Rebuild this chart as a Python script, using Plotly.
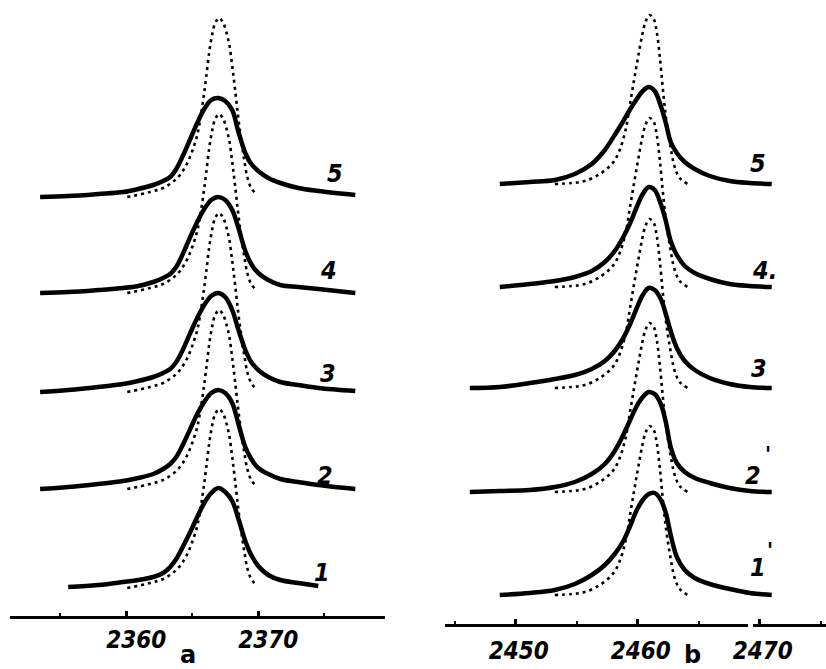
import plotly.graph_objects as go

# ---------------- Panel a ----------------
A_TICKS = [2360, 2370]
A_TICK_LABELS = ["2360", "2370"]
A_NAMES = ["1", "2", "3", "4", "5"]
A_OFFSETS = [0.0, 0.99, 1.96, 2.95, 3.91]

# shared wavenumber grid of the solid curves in panel a
A_WN = [2353.48, 2355.61, 2357.88, 2359.77, 2360.91, 2362.05, 2362.80, 2363.33, 2363.79, 2364.32,
        2364.85, 2365.38, 2365.91, 2366.44, 2366.97, 2367.50, 2368.03, 2368.48, 2369.02, 2369.47,
        2370.00, 2370.76, 2371.67, 2373.03, 2374.55, 2377.35]
A1_I = [None, 0.01, 0.03, 0.06, 0.08, 0.11, 0.15, 0.21, 0.29, 0.42, 0.56, 0.71, 0.85, 0.95, 1.00,
        0.96, 0.87, 0.70, 0.47, 0.33, 0.22, 0.13, 0.08, 0.05, 0.02, None]
A2_I = [0.0, 0.02, 0.05, 0.08, 0.11, 0.15, 0.20, 0.25, 0.32, 0.45, 0.60, 0.75, 0.87, 0.96, 0.99,
        0.96, 0.86, 0.66, 0.42, 0.30, 0.21, 0.15, 0.10, 0.07, 0.04, 0.0]
A3_I = [0.0, 0.02, 0.05, 0.08, 0.11, 0.15, 0.19, 0.23, 0.30, 0.43, 0.59, 0.74, 0.87, 0.96, 0.99,
        0.95, 0.82, 0.63, 0.42, 0.30, 0.22, 0.15, 0.10, 0.07, 0.04, 0.01]
A4_I = [0.0, 0.01, 0.03, 0.05, 0.07, 0.11, 0.15, 0.19, 0.26, 0.40, 0.56, 0.71, 0.84, 0.93, 0.96,
        0.93, 0.83, 0.66, 0.42, 0.29, 0.20, 0.13, 0.08, 0.06, 0.04, 0.0]
A5_I = [0.0, 0.01, 0.03, 0.05, 0.08, 0.12, 0.16, 0.20, 0.28, 0.42, 0.58, 0.74, 0.88, 0.97, 0.99,
        0.96, 0.87, 0.66, 0.44, 0.33, 0.26, 0.19, 0.14, 0.09, 0.06, 0.02]

# dotted (narrow) profile of panel a
AD_WN = [2360.08, 2361.82, 2362.95, 2363.94, 2364.55, 2365.00, 2365.38, 2365.61, 2365.83, 2366.06,
         2366.29, 2366.52, 2366.74, 2367.05, 2367.35, 2367.58, 2367.80, 2368.03, 2368.26, 2368.48,
         2368.71, 2368.94, 2369.17, 2369.47, 2369.92]
AD_I = [0.0, 0.05, 0.10, 0.20, 0.32, 0.46, 0.62, 0.78, 0.97, 1.20, 1.45, 1.63, 1.74, 1.79, 1.74,
        1.65, 1.53, 1.31, 1.06, 0.80, 0.57, 0.37, 0.20, 0.09, 0.02]

# ---------------- Panel b ----------------
B_TICKS = [2450, 2460, 2470]
B_TICK_LABELS = ["2450", "2460", "2470"]
B_NAMES = ["1", "2", "3", "4.", "5"]
B_OFFSETS = [-0.07, 0.96, 2.00, 3.01, 4.04]

B_WN = [2446.23, 2448.69, 2451.15, 2453.20, 2454.84, 2456.23, 2457.30, 2458.11, 2458.77, 2459.34,
        2459.92, 2460.41, 2460.90, 2461.39, 2461.89, 2462.30, 2462.70, 2463.20, 2463.85, 2464.67,
        2465.90, 2467.54, 2469.18, 2470.98]
B1_I = [None, 0.0, 0.02, 0.05, 0.11, 0.20, 0.30, 0.41, 0.53, 0.68, 0.85, 0.95, 1.01, 1.02, 0.95,
        0.82, 0.60, 0.38, 0.25, 0.17, 0.11, 0.06, 0.02, 0.0]
B2_I = [0.0, 0.01, 0.02, 0.05, 0.10, 0.18, 0.28, 0.41, 0.56, 0.71, 0.86, 0.95, 1.00, 0.98, 0.88,
        0.70, 0.45, 0.29, 0.20, 0.14, 0.09, 0.04, 0.01, 0.0]
B3_I = [0.0, 0.01, 0.05, 0.09, 0.13, 0.19, 0.27, 0.37, 0.49, 0.63, 0.80, 0.93, 1.00, 0.98, 0.89,
        0.74, 0.57, 0.40, 0.27, 0.18, 0.10, 0.04, 0.01, 0.0]
B4_I = [None, 0.0, 0.03, 0.06, 0.10, 0.16, 0.25, 0.36, 0.49, 0.63, 0.80, 0.93, 1.00, 0.97, 0.83,
        0.66, 0.46, 0.32, 0.21, 0.14, 0.08, 0.03, 0.01, 0.0]
B5_I = [None, 0.0, 0.02, 0.04, 0.10, 0.20, 0.34, 0.49, 0.62, 0.74, 0.85, 0.93, 0.97, 0.93, 0.78,
        0.61, 0.42, 0.31, 0.22, 0.15, 0.08, 0.03, 0.01, 0.0]

BD_WN = [2453.20, 2454.59, 2455.66, 2456.89, 2457.95, 2458.52, 2459.02, 2459.34, 2459.67, 2460.00,
         2460.33, 2460.66, 2460.98, 2461.31, 2461.56, 2461.80, 2462.05, 2462.30, 2462.62, 2463.03,
         2463.44, 2464.10]
BD_I = [0.0, 0.01, 0.03, 0.10, 0.21, 0.34, 0.55, 0.78, 1.02, 1.25, 1.47, 1.63, 1.69, 1.65, 1.52,
        1.28, 0.96, 0.68, 0.42, 0.17, 0.06, 0.0]

A_SOLID = [A1_I, A2_I, A3_I, A4_I, A5_I]
B_SOLID = [B1_I, B2_I, B3_I, B4_I, B5_I]

W, H = 826, 669
FONT = "DejaVu Sans Condensed, DejaVu Sans, sans-serif"

fig = go.Figure()


def shift(vals, off):
    return [None if v is None else v + off for v in vals]


def add_panel(wn, solid, dwn, dint, offsets, xa, ya):
    for off in offsets:
        fig.add_trace(go.Scatter(
            x=dwn, y=shift(dint, off), mode="lines", xaxis=xa, yaxis=ya,
            line=dict(color="black", width=2.6, dash="3px,4px", shape="spline", smoothing=1.0),
            showlegend=False, hoverinfo="skip"))
    for it, off in zip(solid, offsets):
        fig.add_trace(go.Scatter(
            x=wn, y=shift(it, off), mode="lines", xaxis=xa, yaxis=ya,
            line=dict(color="black", width=4.5, shape="spline", smoothing=1.0),
            showlegend=False, hoverinfo="skip"))


add_panel(A_WN, A_SOLID, AD_WN, AD_I, A_OFFSETS, "x", "y")
add_panel(B_WN, B_SOLID, BD_WN, BD_I, B_OFFSETS, "x2", "y2")

YR = [-0.81, 5.88]
tickfont = dict(family=FONT, size=24, color="black", weight="bold", style="italic")
common_x = dict(showgrid=False, zeroline=False, showline=True, linecolor="black", linewidth=3,
                ticks="inside", ticklen=5, tickwidth=2.5, tickcolor="black", tickfont=tickfont,
                minor=dict(dtick=5, ticks="inside", ticklen=3, tickwidth=2, tickcolor="black",
                           showgrid=False),
                anchor="free", fixedrange=True, automargin=False, showspikes=False)

fig.update_layout(
    width=W, height=H, margin=dict(l=0, r=0, t=0, b=0, autoexpand=False),
    paper_bgcolor="white", plot_bgcolor="white",
    xaxis=dict(domain=[10 / W, 385 / W], range=[2351.2, 2379.6], tickvals=A_TICKS,
               ticktext=A_TICK_LABELS, position=(H - 617) / H, ticklabelshift=10,
               ticklabelstandoff=0, **common_x),
    xaxis2=dict(domain=[445 / W, 1.0], range=[2444.2, 2475.43], tickvals=B_TICKS,
                ticktext=B_TICK_LABELS, position=(H - 625) / H, ticklabelshift=3,
                ticklabelstandoff=3, **common_x),
    yaxis=dict(domain=[0, 1], range=YR, visible=False, anchor="x", fixedrange=True),
    yaxis2=dict(domain=[0, 1], range=YR, visible=False, anchor="x2", fixedrange=True),
)

lab_font = dict(family=FONT, size=25, color="black", weight="bold", style="italic")


def px_ann(text, x, y, font, xanchor="center"):
    fig.add_annotation(text=text, x=x / W, y=1 - y / H, xref="paper", yref="paper",
                       showarrow=False, font=font, xanchor=xanchor, yanchor="middle")


for name, pos in zip(A_NAMES, [(322, 572), (325, 475), (328, 373), (328, 270), (335, 173)]):
    px_ann(name, pos[0], pos[1], lab_font)
for name, pos in zip(B_NAMES, [(758, 567), (753, 475), (759, 368), (750, 270), (758, 163)]):
    px_ann(name, pos[0], pos[1], lab_font, xanchor="left" if name.endswith(".") else "center")
prime_font = dict(family=FONT, size=22, color="black", weight="bold", style="italic")
px_ann("'", 770, 550, prime_font)
px_ann("'", 768, 454, prime_font)

letter_font = dict(family="DejaVu Sans, sans-serif", size=24, color="black", weight="bold")
px_ann("a", 188, 655, letter_font)
px_ann("b", 692, 655, letter_font)

# small gap in the lower axis of panel b
fig.add_shape(type="rect", xref="paper", yref="paper", x0=748 / W, x1=753 / W,
              y0=(H - 630) / H, y1=(H - 620) / H, fillcolor="white", line=dict(width=0), layer="above")

fig.write_html("out.html", config={"displayModeBar": False},
               post_script="document.body.style.margin='0px';")
